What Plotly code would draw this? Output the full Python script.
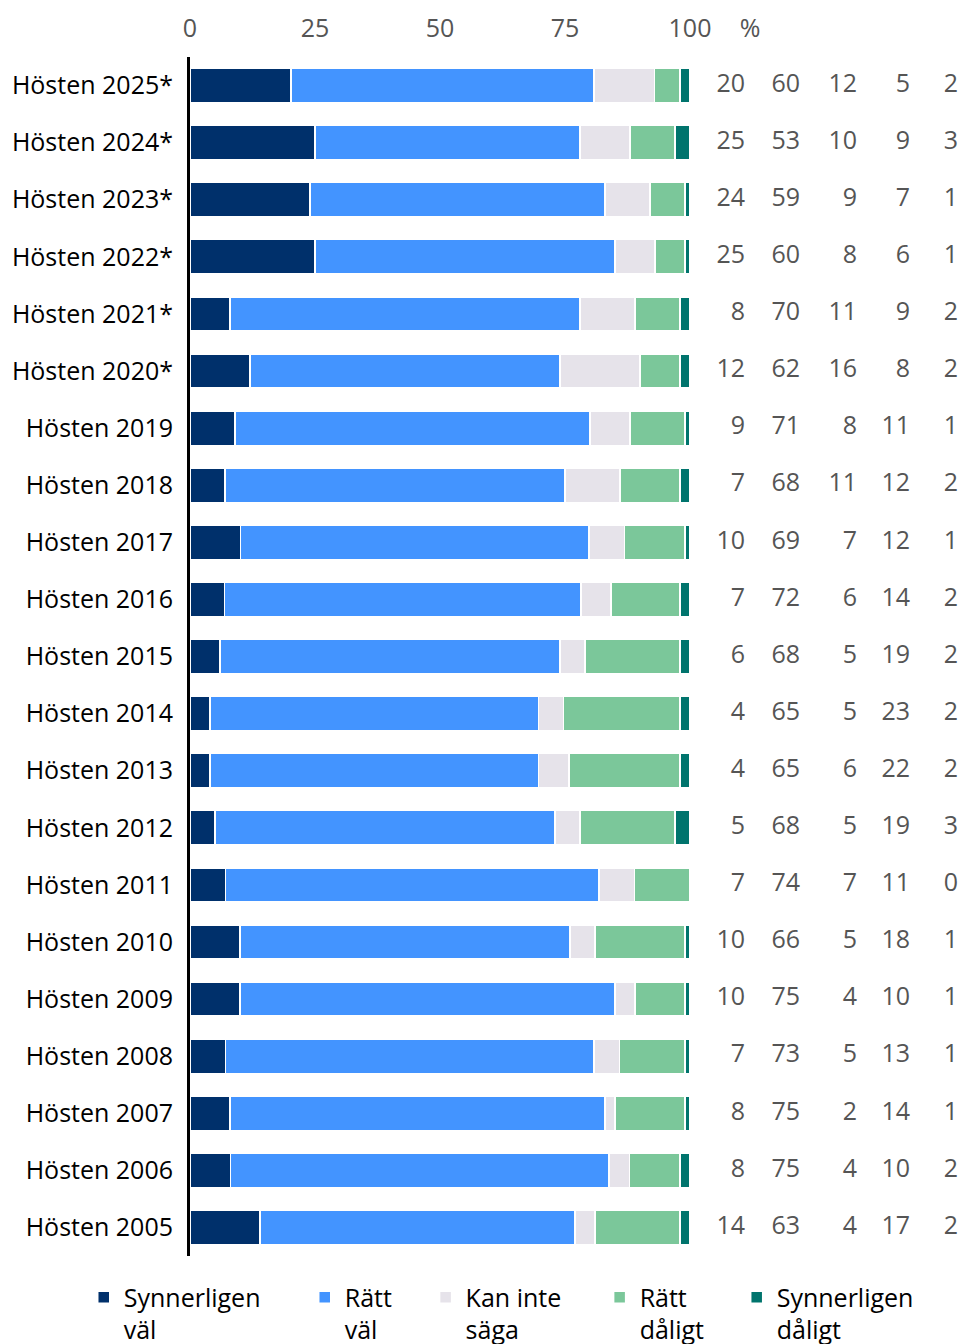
import plotly.graph_objects as go

categories = ["Hösten 2025*", "Hösten 2024*", "Hösten 2023*", "Hösten 2022*", "Hösten 2021*",
              "Hösten 2020*", "Hösten 2019", "Hösten 2018", "Hösten 2017", "Hösten 2016",
              "Hösten 2015", "Hösten 2014", "Hösten 2013", "Hösten 2012", "Hösten 2011",
              "Hösten 2010", "Hösten 2009", "Hösten 2008", "Hösten 2007", "Hösten 2006",
              "Hösten 2005"]
synnerligen_val = [20, 25, 24, 25, 8, 12, 9, 7, 10, 7, 6, 4, 4, 5, 7, 10, 10, 7, 8, 8, 14]
ratt_val = [60, 53, 59, 60, 70, 62, 71, 68, 69, 72, 68, 65, 65, 68, 74, 66, 75, 73, 75, 75, 63]
kan_inte_saga = [12, 10, 9, 8, 11, 16, 8, 11, 7, 6, 5, 5, 6, 5, 7, 5, 4, 5, 2, 4, 4]
ratt_daligt = [5, 9, 7, 6, 9, 8, 11, 12, 12, 14, 19, 23, 22, 19, 11, 18, 10, 13, 14, 10, 17]
synnerligen_daligt = [2, 3, 1, 1, 2, 2, 1, 2, 1, 2, 2, 2, 2, 3, 0, 1, 1, 1, 1, 2, 2]

series_names = ["Synnerligen<br>väl", "Rätt<br>väl", "Kan inte<br>säga", "Rätt<br>dåligt", "Synnerligen<br>dåligt"]
series_values = [synnerligen_val, ratt_val, kan_inte_saga, ratt_daligt, synnerligen_daligt]
colors = ["#00306B", "#4394FF", "#E6E3EA", "#7BC79A", "#00746D"]

tick_vals = [0, 25, 50, 75, 100]
tick_text = ["0", "25", "50", "75", "100"]

# layout helpers
col_pos = [111, 122, 133.4, 144, 153.6]            # value columns, axis units
legend_x = [-0.138, 0.149, 0.306, 0.532, 0.710]    # legend positions, paper units

FONT = "Open Sans"

totals = [sum(v[i] for v in series_values) for i in range(len(categories))]

fig = go.Figure()
for k, (name, vals, col) in enumerate(zip(series_names, series_values, colors)):
    norm = [v / t * 100 for v, t in zip(vals, totals)]
    fig.add_trace(go.Bar(
        y=categories, x=norm, name=name, orientation="h",
        marker=dict(color=col, line=dict(color="white", width=1.5)),
        width=0.6, hoverinfo="skip",
        legend="legend" if k == 0 else f"legend{k + 1}",
    ))

for pos, vals in zip(col_pos, series_values):
    fig.add_trace(go.Scatter(
        y=categories, x=[pos] * len(categories), mode="text",
        text=[str(v) for v in vals], textposition="middle left",
        textfont=dict(family=FONT, size=25, color="#555555"),
        showlegend=False, hoverinfo="skip", cliponaxis=False,
    ))

legend_common = dict(
    orientation="h", xanchor="left", y=-0.0154, yanchor="top",
    font=dict(family=FONT, size=25, color="#000000"),
    valign="top", itemwidth=30, bgcolor="rgba(0,0,0,0)",
)
legends = {}
for k, lx in enumerate(legend_x):
    key = "legend" if k == 0 else f"legend{k + 1}"
    legends[key] = dict(legend_common, x=lx)

fig.update_layout(
    barmode="stack",
    width=962, height=1344,
    margin=dict(l=190, r=2, t=57, b=88, autoexpand=False),
    plot_bgcolor="white", paper_bgcolor="white",
    font=dict(family=FONT, size=25, color="#000000"),
    xaxis=dict(
        range=[0, 154], side="top", automargin=False,
        tickvals=tick_vals + [112], ticktext=tick_text + ["%"],
        tickfont=dict(family=FONT, size=25, color="#555555"),
        showgrid=False, zeroline=False, showline=False, ticks="",
        ticklabelstandoff=14,
    ),
    yaxis=dict(
        range=[len(categories) - 0.5, -0.5], showgrid=False, zeroline=False,
        automargin=False,
        showline=True, linecolor="#000000", linewidth=3, ticks="",
        ticklabelstandoff=9,
        tickfont=dict(family=FONT, size=25, color="#000000"),
    ),
    bargap=0.4,
    **legends,
)

fig.write_html(
    "out.html",
    config={"displayModeBar": False},
    post_script="document.body.style.margin='0';document.body.style.overflow='hidden';",
)
